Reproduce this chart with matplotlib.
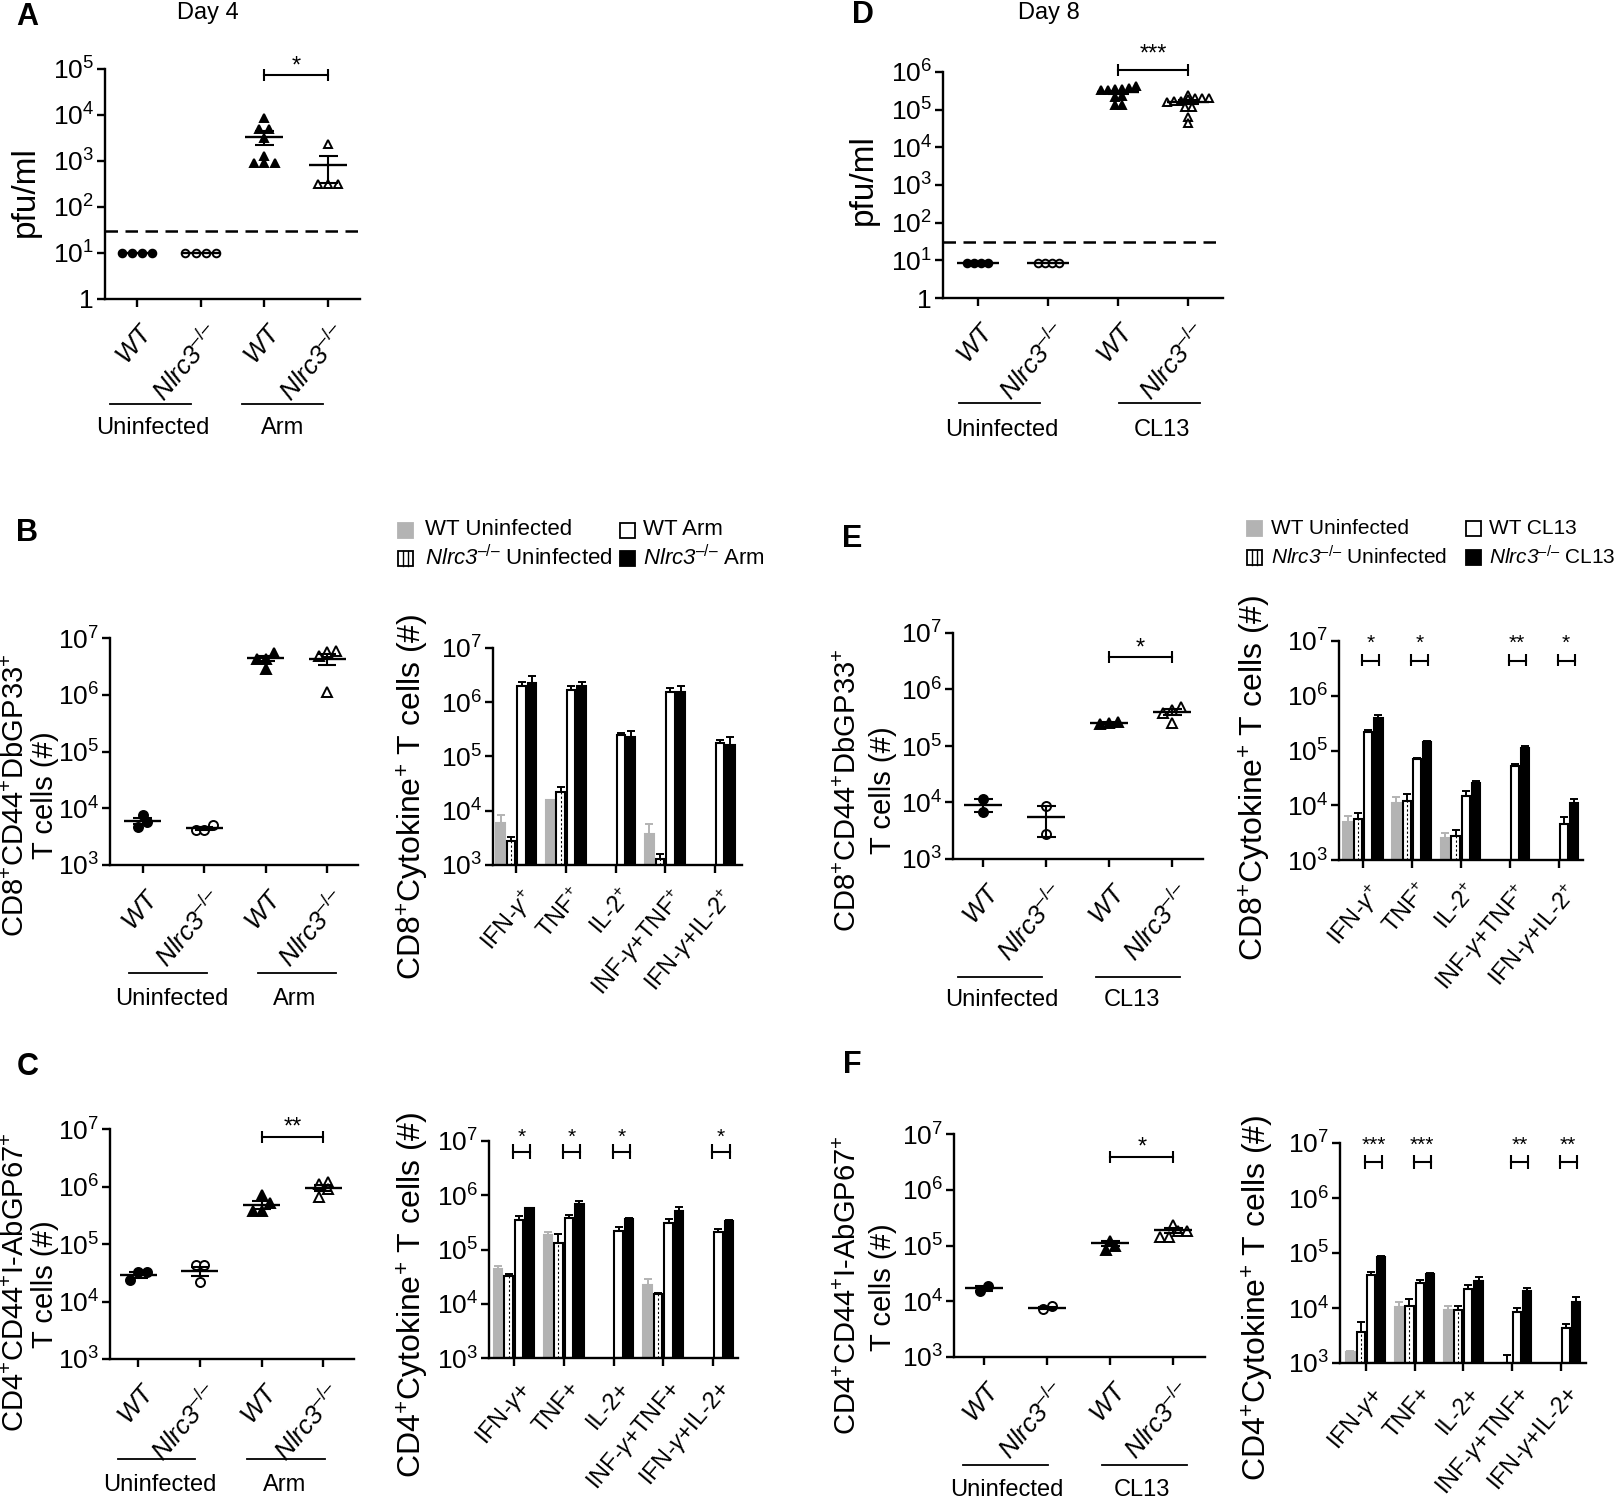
import numpy as np
import matplotlib
matplotlib.use('Agg')
import matplotlib.pyplot as plt
from matplotlib.patches import Rectangle
from matplotlib.lines import Line2D
from matplotlib.ticker import FixedLocator, NullLocator
import matplotlib.transforms as mtransforms

# ------------------------------------------------------------------ data
LOD = 30  # detection limit (dashed line)

# Panel A (Day 4, pfu/ml)
A_WT_UNINF = [10, 10, 10, 10]
A_KO_UNINF = [10, 10, 10, 10]
A_WT_ARM = [8500, 4900, 4900, 3200, 1300, 920, 920, 920]
A_KO_ARM = [2300, 310, 310, 310]
A_MEAN = [10, 10, 3300, 820]
A_SEM = [0, 0, 1100, 480]

# Panel D (Day 8, pfu/ml)
D_WT_UNINF = [8.5, 8.5, 8.5, 8.5]
D_KO_UNINF = [8.5, 8.5, 8.5, 8.5]
D_WT_CL13 = [4.3e5, 3.8e5, 3.6e5, 3.5e5, 3.4e5, 3.3e5, 2.3e5, 2.2e5, 1.35e5, 1.3e5]
D_KO_CL13 = [2.4e5, 2.0e5, 2.0e5, 2.0e5, 1.9e5, 1.7e5, 1.7e5, 1.6e5, 1.2e5, 1.2e5, 6.5e4, 4.5e4]
D_MEAN = [8.5, 8.5, 2.9e5, 1.6e5]
D_SEM = [0, 0, 3e4, 1.7e4]

# Panel B scatter (CD8+CD44+DbGP33+ T cells, Arm)
B_WT_UNINF = [7.6e3, 5.8e3, 4.7e3]
B_KO_UNINF = [5.1e3, 4.1e3, 4.1e3]
B_WT_ARM = [5.4e6, 4.2e6, 4.2e6, 2.8e6]
B_KO_ARM = [5.6e6, 5.8e6, 4.8e6, 1.1e6]
B_MEAN = [6.0e3, 4.4e3, 4.4e6, 4.3e6]
B_SEM = [8e2, 3e2, 5e5, 1.0e6]

# Panel C scatter (CD4+CD44+I-AbGP67+ T cells, Arm)
C_WT_UNINF = [3.3e4, 2.4e4, 3.3e4]
C_KO_UNINF = [4.3e4, 2.2e4, 4.3e4]
C_WT_ARM = [5.1e5, 7.2e5, 3.7e5, 3.7e5]
C_KO_ARM = [1.1e6, 6.7e5, 1.2e6, 9.0e5]
C_MEAN = [2.9e4, 3.4e4, 4.8e5, 9.4e5]
C_SEM = [3e3, 6e3, 8e4, 1.1e5]

# Panel E scatter (CD8+CD44+DbGP33+ T cells, CL13)
E_WT_UNINF = [6.7e3, 1.15e4]
E_KO_UNINF = [8.8e3, 2.8e3]
E_WT_CL13 = [2.5e5, 2.7e5, 2.6e5]
E_KO_CL13 = [4.3e5, 2.6e5, 5.0e5, 3.9e5]
E_MEAN = [9.2e3, 5.5e3, 2.6e5, 4.0e5]
E_SEM = [2.4e3, 3.0e3, 1e4, 5e4]

# Panel F scatter (CD4+CD44+I-AbGP67+ T cells, CL13)
F_WT_UNINF = [1.5e4, 1.9e4]
F_KO_UNINF = [7.3e3, 8.1e3]
F_WT_CL13 = [8.4e4, 1.2e5, 9.7e4]
F_KO_CL13 = [1.8e5, 1.4e5, 2.36e5, 1.4e5, 1.8e5]
F_MEAN = [1.7e4, 7.6e3, 1.1e5, 1.9e5]
F_SEM = [2e3, 4e2, 1e4, 2e4]

GENOTYPES = ['WT', 'Nlrc3', 'WT', 'Nlrc3']
CYTOKINES = ['IFN-γ', 'TNF', 'IL-2', 'INF-γ+TNF', 'IFN-γ+IL-2']
nan = np.nan

# Bar panels: order = WT uninfected, Nlrc3 uninfected, WT infected, Nlrc3 infected
B_BAR = [[6.0e3, 1.57e4, nan, 3.8e3, nan],
         [2.8e3, 2.2e4, nan, 1.3e3, nan],
         [2.0e6, 1.7e6, 2.5e5, 1.55e6, 1.8e5],
         [2.3e6, 2.0e6, 2.3e5, 1.55e6, 1.66e5]]
B_BAR_SEM = [[2.3e3, 3e2, nan, 1.8e3, nan],
             [5e2, 5e3, nan, 3e2, nan],
             [4e5, 3e5, 2e4, 2.5e5, 2.5e4],
             [7e5, 4e5, 7e4, 4.5e5, 6.4e4]]

C_BAR = [[4.3e4, 1.85e5, nan, 2.2e4, nan],
         [3.3e4, 1.34e5, nan, 1.5e4, nan],
         [3.5e5, 3.8e5, 2.2e5, 3.1e5, 2.1e5],
         [5.7e5, 6.9e5, 3.6e5, 5.2e5, 3.3e5]]
C_BAR_SEM = [[7e3, 2.5e4, nan, 6e3, nan],
             [2e3, 5.6e4, nan, 1e3, nan],
             [7e4, 6e4, 4e4, 5e4, 3e4],
             [2e4, 1.1e5, 1.5e4, 9e4, 1.5e4]]
C_BAR_SIG = ['*', '*', '*', '', '*']

E_BAR = [[5.0e3, 1.1e4, 2.5e3, nan, nan],
         [5.5e3, 1.2e4, 2.7e3, nan, nan],
         [2.2e5, 6.9e4, 1.5e4, 5.3e4, 4.5e3],
         [4.0e5, 1.4e5, 2.5e4, 1.1e5, 1.1e4]]
E_BAR_SEM = [[1.3e3, 3e3, 6e2, nan, nan],
             [1.6e3, 4e3, 8e2, nan, nan],
             [2e4, 5e3, 3e3, 3e3, 1.5e3],
             [4e4, 1.2e4, 3e3, 1e4, 2e3]]
E_BAR_SIG = ['*', '*', '', '**', '*']

F_BAR = [[1.56e3, 1.04e4, 9.1e3, nan, nan],
         [3.6e3, 1.1e4, 9.1e3, 1.02e3, nan],
         [4.0e4, 2.85e4, 2.2e4, 8.5e3, 4.3e3],
         [8.5e4, 4.1e4, 3.05e4, 2.0e4, 1.3e4]]
F_BAR_SEM = [[1e2, 2.3e3, 1.9e3, nan, nan],
             [2e3, 3.5e3, 1.9e3, 3.8e2, nan],
             [5e3, 3.5e3, 4e3, 1.4e3, 9e2],
             [3e3, 3e3, 6.5e3, 3e3, 2.7e3]]
F_BAR_SIG = ['***', '***', '', '**', '**']

# ------------------------------------------------------------------ style
W, H = 1623, 1500
FONT = 'Liberation Sans'
plt.rcParams['font.family'] = [FONT, 'DejaVu Sans']
plt.rcParams['mathtext.fontset'] = 'custom'
plt.rcParams['mathtext.rm'] = FONT
plt.rcParams['mathtext.it'] = FONT + ':italic'
plt.rcParams['mathtext.sf'] = FONT + ':italic'
plt.rcParams['mathtext.bf'] = FONT + ':bold'
plt.rcParams['axes.linewidth'] = 1.7

fig = plt.figure(figsize=(W / 100, H / 100), dpi=100)


def fx(x):
    return x / W


def fy(y):
    return 1 - y / H


def add_ax(l, t, r, b):
    return fig.add_axes([l / W, 1 - b / H, (r - l) / W, (b - t) / H])


def log_axis(ax, lo, hi, size=19):
    ax.set_yscale('log')
    ax.set_ylim(10.0 ** lo, 10.0 ** hi)
    exps = list(range(lo, hi + 1))
    ax.yaxis.set_major_locator(FixedLocator([10.0 ** e for e in exps]))
    ax.set_yticklabels(['1' if e == 0 else r'$10^{%d}$' % e for e in exps])
    ax.yaxis.set_minor_locator(NullLocator())
    for s in ('top', 'right'):
        ax.spines[s].set_visible(False)
    ax.tick_params(axis='both', direction='out', length=6, width=1.7,
                   labelsize=size, pad=2)
    ax.patch.set_alpha(0)


def rotate_xlabels(ax, size, dx=4, rot=50, pad=10):
    ax.tick_params(axis='x', pad=pad, labelsize=size)
    off = mtransforms.ScaledTranslation(dx / 100, 0, fig.dpi_scale_trans)
    for lab in ax.get_xticklabels():
        lab.set_rotation(rot)
        lab.set_ha('right')
        lab.set_va('top')
        lab.set_rotation_mode('anchor')
        lab.set_transform(lab.get_transform() + off)


def swarm(vals, dx, thr):
    v = np.log10(np.asarray(vals, float))
    order = np.argsort(v)
    offs = np.zeros(len(v))
    clusters, cur = [], [order[0]]
    for k in order[1:]:
        if v[k] - v[cur[0]] < thr:
            cur.append(k)
        else:
            clusters.append(cur)
            cur = [k]
    clusters.append(cur)
    for c in clusters:
        m = len(c)
        for j, k in enumerate(c):
            offs[k] = (j - (m - 1) / 2) * dx
    return offs


KO = r'$\mathsf{Nlrc3}^{\mathrm{–/–}}$'


def geno_labels():
    return [r'$\mathsf{WT}$' if g == 'WT' else KO for g in GENOTYPES]


STAR_OFF = mtransforms.ScaledTranslation(0, -0.07, fig.dpi_scale_trans)


def scatter_panel(box, xlim, lo, hi, groups, means, sems, sig=None, lod=None,
                  ms=(6.5, 6.5, 7.5, 7.5), thr=0.15, dx=0.14):
    ax = add_ax(*box)
    log_axis(ax, lo, hi)
    ax.set_xlim(xlim)
    styles = [('o', 'black'), ('o', 'white'), ('^', 'black'), ('^', 'white')]
    for i, vals in enumerate(groups):
        offs = swarm(vals, dx, thr)
        m, fc = styles[i]
        ax.plot(i + offs, vals, ls='none', marker=m, ms=ms[i], mfc=fc, mec='black',
                mew=1.4, zorder=3, clip_on=False)
        ax.hlines(means[i], i - 0.3, i + 0.3, color='black', lw=1.7, zorder=4)
        if sems[i] > 0:
            ax.vlines(i, means[i] - sems[i], means[i] + sems[i], color='black', lw=1.5, zorder=4)
            ax.hlines([means[i] - sems[i], means[i] + sems[i]], i - 0.15, i + 0.15,
                      color='black', lw=1.5, zorder=4)
    if lod is not None:
        ax.axhline(lod, color='black', lw=1.8, ls=(0, (5, 3)), zorder=2)
    ax.set_xticks(range(4))
    ax.set_xticklabels(geno_labels())
    rotate_xlabels(ax, 19, dx=4, rot=50, pad=9)
    if sig is not None:
        ybar, ystar, txt = sig
        hpx = (box[3] - box[1]) / (hi - lo)
        d = 10 ** (6.0 / hpx)
        ax.plot([2, 3], [ybar, ybar], color='black', lw=1.5, clip_on=False)
        ax.vlines([2, 3], ybar / d, ybar * d, color='black', lw=1.5, clip_on=False)
        ax.text(2.5, ystar, txt, ha='center', va='center', fontsize=17, clip_on=False,
                transform=ax.transData + STAR_OFF)
    return ax


BAR_FC = ['#b3b3b3', 'white', 'white', 'black']
BAR_EC = ['#b3b3b3', 'black', 'black', 'black']


def bar_panel(box, xlim, series, sems, labels, sig=None, sig_y=None):
    ax = add_ax(*box)
    log_axis(ax, 3, 7)
    ax.set_xlim(xlim)
    x = np.arange(len(labels))
    step, w = 0.21, 0.17
    for k in range(4):
        v = np.array(series[k], float)
        e = np.array(sems[k], float)
        ok = ~np.isnan(v)
        xs = x[ok] + (k - 1.5) * step
        ax.errorbar(xs, v[ok], yerr=[np.zeros(ok.sum()), e[ok]], fmt='none',
                    ecolor=BAR_EC[k], elinewidth=1.4, capsize=3, capthick=1.4, zorder=1)
        ax.bar(xs, v[ok] - 1e3, bottom=1e3, width=w, color=BAR_FC[k],
               edgecolor=BAR_EC[k], linewidth=1.5, zorder=2)
        if k == 1:
            ax.vlines(xs, 1e3, v[ok], colors='black', linestyles=(0, (2, 2)),
                      linewidth=0.8, zorder=3)
    ax.set_xticks(x)
    ax.set_xticklabels(labels)
    rotate_xlabels(ax, 17, dx=4, rot=50, pad=8)
    if sig is not None:
        lo_, mid, hi_, ys = sig_y
        for i, s in enumerate(sig):
            if not s:
                continue
            x0, x1 = i - 0.02, i + 0.33
            ax.plot([x0, x1], [mid, mid], color='black', lw=1.5, clip_on=False)
            ax.vlines([x0, x1], lo_, hi_, color='black', lw=1.5, clip_on=False)
            ax.text((x0 + x1) / 2, ys, s, ha='center', va='center', fontsize=15, clip_on=False)
    return ax


def group_lines(lines, ly, names, ty):
    for (x0, x1), (xc, name) in zip(lines, names):
        fig.add_artist(Line2D([fx(x0), fx(x1)], [fy(ly), fy(ly)], transform=fig.transFigure,
                              color='black', lw=1.3))
        fig.text(fx(xc), fy(ty), name, ha='center', va='center', fontsize=17)


def legend_block(xs1, xt1, xs2, xt2, y1, y2, labels, size=16):
    sq = 15
    entries = [(xs1, xt1, y1, 0), (xs1, xt1, y2, 1), (xs2, xt2, y1, 2), (xs2, xt2, y2, 3)]
    for xs, xt, y, k in entries:
        fig.add_artist(Rectangle((fx(xs), fy(y + sq / 2)), sq / W, sq / H,
                                 transform=fig.transFigure, facecolor=BAR_FC[k],
                                 edgecolor=BAR_EC[k], lw=1.3))
        if k == 1:
            for f in (0.36, 0.64):
                fig.add_artist(Line2D([fx(xs + sq * f)] * 2, [fy(y + sq / 2), fy(y - sq / 2)],
                                      transform=fig.transFigure, color='black', lw=1.0))
        fig.text(fx(xt), fy(y), labels[k], ha='left', va='center', fontsize=size)


def ylab(x, y, s, size=21):
    fig.text(fx(x), fy(y), s, rotation=90, ha='center', va='center', fontsize=size)


def letter(x, y, s):
    fig.text(fx(x), fy(y), s, ha='center', va='center', fontsize=22, fontweight='bold')


CYT_SUP = [r'IFN-$\gamma^{+}$', r'TNF$^{+}$', r'IL-2$^{+}$', r'INF-$\gamma$+TNF$^{+}$', r'IFN-$\gamma$+IL-2$^{+}$']
CYT_PLAIN = [c.replace('γ', r'$\gamma$') + '+' for c in CYTOKINES]
CD8_LAB = r'CD8$^{+}$CD44$^{+}$DbGP33$^{+}$'
CD4_LAB = r'CD4$^{+}$CD44$^{+}$I-AbGP67$^{+}$'

# ------------------------------------------------------------------ panel A
letter(27, 17, 'A')
fig.text(fx(208), fy(13), 'Day 4', ha='center', va='center', fontsize=17)
scatter_panel((105, 69, 360, 299), (-0.5, 3.5), 0, 5,
              [A_WT_UNINF, A_KO_UNINF, A_WT_ARM, A_KO_ARM], A_MEAN, A_SEM,
              sig=(7.4e4, 1.6e5, '*'), lod=LOD, ms=(5.5, 5.5, 6.0, 6.0), dx=0.16, thr=0.12)
ylab(25, 192, 'pfu/ml', 24)
group_lines([(110, 191), (242, 323)], 404, [(153, 'Uninfected'), (283, 'Arm')], 428)

# ------------------------------------------------------------------ panel D
letter(863, 15, 'D')
fig.text(fx(1049), fy(13), 'Day 8', ha='center', va='center', fontsize=17)
scatter_panel((943, 72, 1223, 298), (-0.5, 3.5), 0, 6,
              [D_WT_UNINF, D_KO_UNINF, D_WT_CL13, D_KO_CL13], D_MEAN, D_SEM,
              sig=(1.14e6, 4.5e6, '***'), lod=LOD, ms=(5.5, 5.5, 5.5, 5.5),
              dx=0.1, thr=0.12)
ylab(863, 180, 'pfu/ml', 24)
group_lines([(959, 1040), (1119, 1200)], 403, [(1002, 'Uninfected'), (1162, 'CL13')], 430)

# ------------------------------------------------------------------ panel B
letter(27, 533, 'B')
scatter_panel((110, 638, 358, 865), (-0.53, 3.5), 3, 7,
              [B_WT_UNINF, B_KO_UNINF, B_WT_ARM, B_KO_ARM], B_MEAN, B_SEM)
ylab(16, 795, CD8_LAB)
ylab(45, 795, 'T cells (#)')
group_lines([(129, 207), (258, 336)], 973, [(172, 'Uninfected'), (295, 'Arm')], 999)

bar_panel((493, 648, 742, 865), (-0.47, 4.55), B_BAR, B_BAR_SEM, CYT_SUP)
ylab(413, 797, r'CD8$^{+}$Cytokine$^{+}$ T cells (#)', 23)
legend_block(398, 425, 620, 643, 530, 558,
             ['WT Uninfected', KO + ' Uninfected', 'WT Arm', KO + ' Arm'])

# ------------------------------------------------------------------ panel C
letter(28, 1067, 'C')
scatter_panel((110, 1129, 354, 1359), (-0.46, 3.5), 3, 7,
              [C_WT_UNINF, C_KO_UNINF, C_WT_ARM, C_KO_ARM], C_MEAN, C_SEM,
              sig=(7.2e6, 1.4e7, '**'))
ylab(16, 1282, CD4_LAB)
ylab(45, 1284, 'T cells (#)')
group_lines([(118, 195), (247, 325)], 1459, [(160, 'Uninfected'), (285, 'Arm')], 1485)

bar_panel((489, 1141, 738, 1358), (-0.5, 4.5), C_BAR, C_BAR_SEM, CYT_PLAIN,
          sig=C_BAR_SIG, sig_y=(10 ** 6.675, 10 ** 6.8, 10 ** 6.94, 10 ** 7.06))
ylab(413, 1295, r'CD4$^{+}$Cytokine$^{+}$ T cells (#)', 23)

# ------------------------------------------------------------------ panel E
letter(852, 539, 'E')
scatter_panel((953, 633, 1203, 859), (-0.48, 3.49), 3, 7,
              [E_WT_UNINF, E_KO_UNINF, E_WT_CL13, E_KO_CL13], E_MEAN, E_SEM,
              sig=(3.76e6, 7.2e6, '*'))
ylab(848, 790, CD8_LAB)
ylab(883, 790, 'T cells (#)')
group_lines([(958, 1042), (1096, 1180)], 977, [(1002, 'Uninfected'), (1132, 'CL13')], 1000)

bar_panel((1339, 641, 1583, 860), (-0.49, 4.5), E_BAR, E_BAR_SEM, CYT_SUP,
          sig=E_BAR_SIG, sig_y=(10 ** 6.538, 10 ** 6.635, 10 ** 6.757, 10 ** 6.96))
ylab(1255, 778, r'CD8$^{+}$Cytokine$^{+}$ T cells (#)', 23)
legend_block(1247, 1271, 1466, 1489, 528, 557,
             ['WT Uninfected', KO + ' Uninfected', 'WT CL13', KO + ' CL13'], size=15)

# ------------------------------------------------------------------ panel F
letter(852, 1065, 'F')
scatter_panel((954, 1134, 1205, 1357), (-0.475, 3.5), 3, 7,
              [F_WT_UNINF, F_KO_UNINF, F_WT_CL13, F_KO_CL13], F_MEAN, F_SEM,
              sig=(3.9e6, 7.6e6, '*'))
ylab(848, 1285, CD4_LAB)
ylab(883, 1287, 'T cells (#)')
group_lines([(963, 1048), (1102, 1187)], 1465, [(1007, 'Uninfected'), (1142, 'CL13')], 1490)

bar_panel((1340, 1143, 1586, 1363), (-0.53, 4.52), F_BAR, F_BAR_SEM, CYT_PLAIN,
          sig=F_BAR_SIG, sig_y=(10 ** 6.527, 10 ** 6.65, 10 ** 6.776, 10 ** 6.95))
ylab(1258, 1298, r'CD4$^{+}$Cytokine$^{+}$ T cells (#)', 23)

fig.savefig('out.png', dpi=100)
